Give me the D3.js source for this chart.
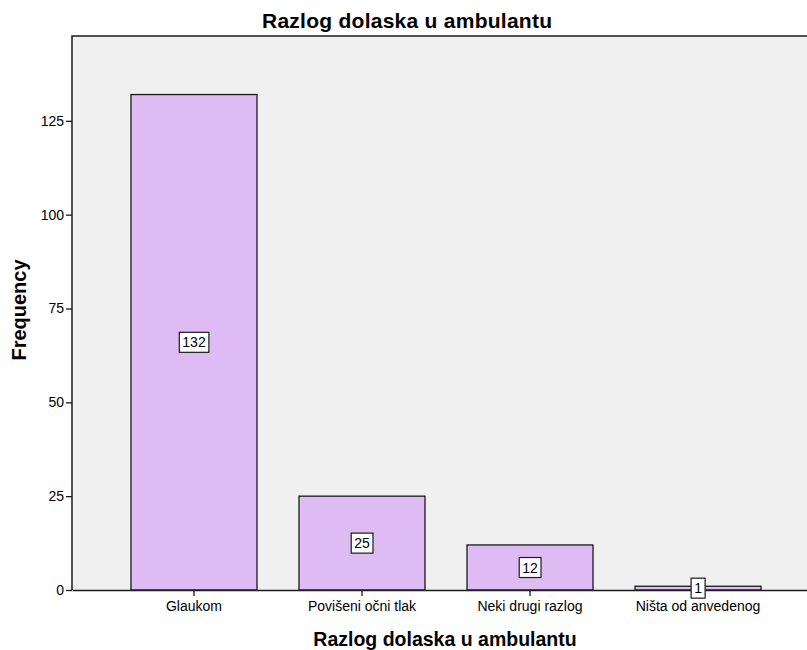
<!DOCTYPE html>
<html>
<head>
<meta charset="utf-8">
<script src="https://cdn.jsdelivr.net/npm/d3@7"></script>
<style>
  body { margin: 0; background: #fff; }
  text { font-family: "Liberation Sans", Arial, sans-serif; }
</style>
</head>
<body>
<svg id="chart" width="807" height="650"></svg>
<script>
const categories = ["Glaukom", "Povišeni očni tlak", "Neki drugi razlog", "Ništa od anvedenog"];
const counts = [132, 25, 12, 1];
const yTicks = [0, 25, 50, 75, 100, 125];

const svg = d3.select("#chart");
const plotLeft = 72, plotRight = 820, plotTop = 36, plotBottom = 590;

const x = d3.scaleBand()
    .domain(categories)
    .range([plotLeft, plotRight])
    .paddingInner(0.25)
    .paddingOuter(0.351);

const y = d3.scaleLinear()
    .domain([0, 147.6])
    .range([plotBottom, plotTop]);

// plot background
svg.append("rect")
    .attr("x", plotLeft).attr("y", plotTop)
    .attr("width", plotRight - plotLeft).attr("height", plotBottom - plotTop)
    .attr("fill", "#f0f0f0");

// bars
const data = categories.map((c, i) => ({ c, v: counts[i] }));

svg.selectAll(".bar")
    .data(data)
    .enter().append("rect")
    .attr("class", "bar")
    .attr("x", d => x(d.c))
    .attr("y", d => y(d.v))
    .attr("width", x.bandwidth())
    .attr("height", d => y(0) - y(d.v))
    .attr("fill", "#dfbbf3")
    .attr("stroke", "#1a1a1a")
    .attr("stroke-width", 1.3);

// frame: top and left border
svg.append("path")
    .attr("d", `M${plotRight},${plotTop}H${plotLeft}V${plotBottom}`)
    .attr("fill", "none")
    .attr("stroke", "#1a1a1a")
    .attr("stroke-width", 1.5);

// y axis
const yAxis = svg.append("g")
    .attr("transform", `translate(${plotLeft},0)`)
    .call(d3.axisLeft(y).tickValues(yTicks).tickSize(6).tickPadding(2).tickSizeOuter(0));
yAxis.select(".domain").remove();
yAxis.selectAll("line").attr("stroke", "#1a1a1a").attr("stroke-width", 1.3);
yAxis.selectAll("text").attr("font-size", 14).attr("fill", "#000")
    .attr("font-family", "Liberation Sans, Arial, sans-serif");

// x axis
const xAxis = svg.append("g")
    .attr("transform", `translate(0,${plotBottom})`)
    .call(d3.axisBottom(x).tickSize(6).tickPadding(5).tickSizeOuter(0));
xAxis.select(".domain").attr("stroke", "#1a1a1a").attr("stroke-width", 1.5);
xAxis.selectAll("line").attr("stroke", "#1a1a1a").attr("stroke-width", 1.3);
xAxis.selectAll("text").attr("font-size", 14).attr("fill", "#000")
    .attr("font-family", "Liberation Sans, Arial, sans-serif");

// value labels
const labels = svg.selectAll(".lbl")
    .data(data)
    .enter().append("g")
    .attr("class", "lbl")
    .attr("transform", d => `translate(${x(d.c) + x.bandwidth() / 2},${y(d.v / 2)})`);

labels.append("text")
    .attr("text-anchor", "middle")
    .attr("dy", "0.36em")
    .attr("font-size", 14)
    .text(d => d.v);

labels.each(function () {
    const g = d3.select(this);
    const b = g.select("text").node().getBBox();
    g.insert("rect", "text")
        .attr("x", b.x - 3).attr("y", b.y - 2)
        .attr("width", b.width + 6).attr("height", b.height + 4)
        .attr("fill", "#fff")
        .attr("stroke", "#1a1a1a")
        .attr("stroke-width", 1.2);
});

// titles
svg.append("text")
    .attr("x", 407).attr("y", 28)
    .attr("text-anchor", "middle")
    .attr("font-size", 21).attr("font-weight", "bold")
    .attr("textLength", 290).attr("lengthAdjust", "spacing")
    .text("Razlog dolaska u ambulantu");

svg.append("text")
    .attr("x", 445).attr("y", 646)
    .attr("text-anchor", "middle")
    .attr("font-size", 19.5).attr("font-weight", "bold")
    .text("Razlog dolaska u ambulantu");

svg.append("text")
    .attr("transform", `translate(26,310) rotate(-90)`)
    .attr("text-anchor", "middle")
    .attr("font-size", 20).attr("font-weight", "bold")
    .text("Frequency");
</script>
</body>
</html>
